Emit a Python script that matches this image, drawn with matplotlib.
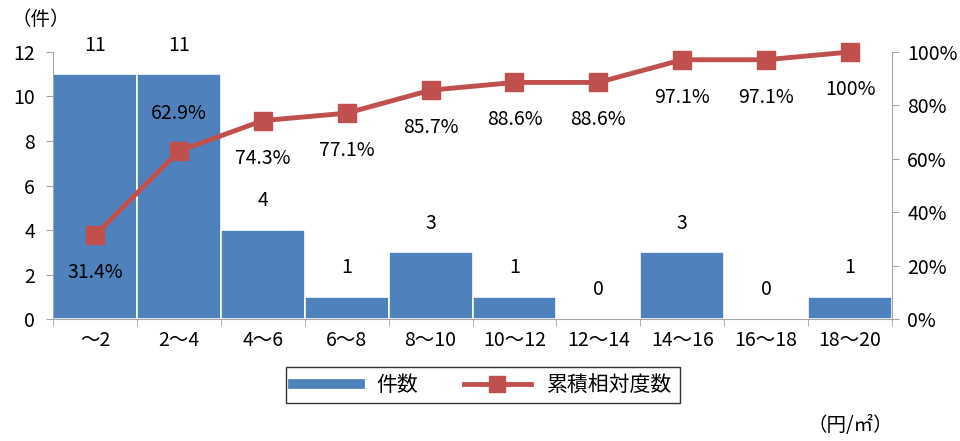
import matplotlib
matplotlib.use("Agg")
import matplotlib.pyplot as plt
from matplotlib.lines import Line2D
from matplotlib.ticker import FixedLocator, PercentFormatter

plt.rcParams["font.family"] = ["Noto Sans CJK JP", "DejaVu Sans"]

# 単価帯ごとの件数と累積相対度数
categories = ["～2", "2～4", "4～6", "6～8", "8～10", "10～12", "12～14", "14～16", "16～18", "18～20"]
counts = [11, 11, 4, 1, 3, 1, 0, 3, 0, 1]
cum_pct = [31.4, 62.9, 74.3, 77.1, 85.7, 88.6, 88.6, 97.1, 97.1, 100.0]
pct_labels = ["31.4%", "62.9%", "74.3%", "77.1%", "85.7%", "88.6%", "88.6%", "97.1%", "97.1%", "100%"]
label_above = [False, True, False, False, False, False, False, False, False, False]

BLUE = "#4F81BD"
RED = "#C0504D"
GRAY = "#A6A6A6"
FS = 14

fig = plt.figure(figsize=(9.6, 4.41), dpi=100)
ax = fig.add_axes([0.0552, 0.2766, 0.8740, 0.6055])
x = list(range(len(categories)))

ax.bar(x, counts, width=1.0, color=BLUE, edgecolor="white", linewidth=1.2, zorder=2)
for xi, c in zip(x, counts):
    ax.annotate(str(c), (xi, c), xytext=(0, 21), textcoords="offset points",
                ha="center", va="center", fontsize=FS)

ax.set_xlim(-0.5, len(categories) - 0.5)
ax.set_ylim(0, 12)
ax.set_yticks(range(0, 13, 2))
ax.set_xticks(x)
ax.set_xticklabels(categories, fontsize=FS)
ax.xaxis.set_minor_locator(FixedLocator([i - 0.5 for i in range(len(categories) + 1)]))
ax.tick_params(axis="x", which="major", length=0, pad=8)
ax.tick_params(axis="x", which="minor", length=5, color=GRAY)
ax.tick_params(axis="y", length=5, color=GRAY, labelsize=FS, pad=8)
for side in ("top", "right"):
    ax.spines[side].set_visible(False)
for side in ("left", "bottom"):
    ax.spines[side].set_color(GRAY)

ax2 = ax.twinx()
ax2.plot(x, cum_pct, color=RED, linewidth=3.5, marker="s", markersize=13,
         zorder=3, clip_on=False)
ax2.set_ylim(0, 100)
ax2.set_yticks(range(0, 101, 20))
ax2.yaxis.set_major_formatter(PercentFormatter(decimals=0))
ax2.tick_params(axis="y", length=5, color=GRAY, labelsize=FS, pad=6)
for side in ("top", "left", "bottom"):
    ax2.spines[side].set_visible(False)
ax2.spines["right"].set_color(GRAY)

for xi, p, txt, above in zip(x, cum_pct, pct_labels, label_above):
    dy = 27 if above else -27
    ax2.annotate(txt, (xi, p), xytext=(0, dy), textcoords="offset points",
                 ha="center", va="center", fontsize=FS)

fig.text(0.012, 0.955, "（件）", fontsize=FS, ha="left", va="center")
fig.text(0.93, 0.035, "（円/㎡）", fontsize=FS, ha="right", va="center")

handles = [
    Line2D([0], [0], color=BLUE, linewidth=7),
    Line2D([0], [0], color=RED, linewidth=3.5, marker="s", markersize=11),
]
fig.legend(handles, ["件数", "累積相対度数"], loc="center", bbox_to_anchor=(0.503, 0.127),
           ncol=2, fontsize=15, frameon=True, fancybox=False, edgecolor="black",
           handlelength=3.2, columnspacing=2.2, borderpad=0.35)

fig.savefig("out.png", dpi=100)
